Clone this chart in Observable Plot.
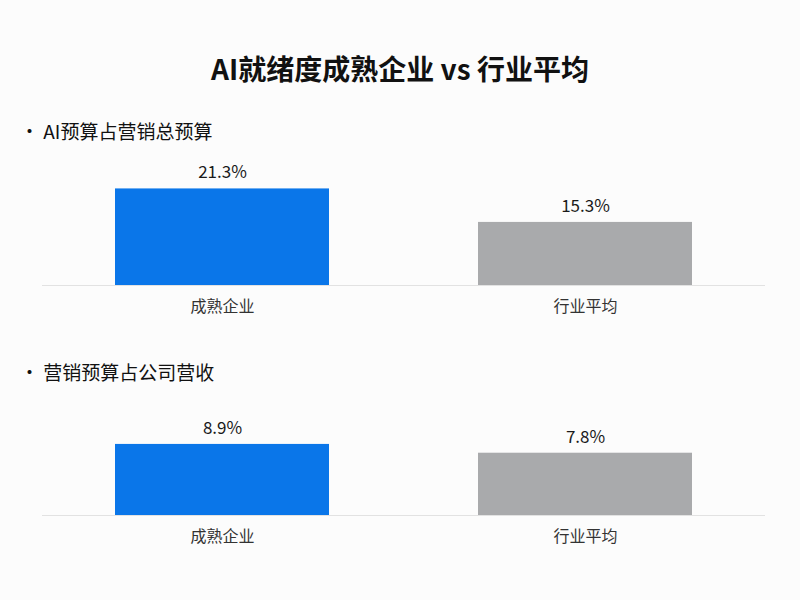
<!DOCTYPE html>
<html>
<head>
<meta charset="utf-8">
<script src="https://cdn.jsdelivr.net/npm/d3@7"></script>
<script src="https://cdn.jsdelivr.net/npm/@observablehq/plot@0.6"></script>
<style>
  html, body { margin: 0; padding: 0; background: #fcfcfc; }
  body { width: 800px; height: 600px; position: relative; overflow: hidden;
         font-family: "Noto Sans CJK SC", "Noto Sans", sans-serif; color: #111; }
  .title { position: absolute; left: 0; width: 800px; top: 48px; height: 40px; line-height: 40px;
           text-align: center; font-size: 28px; font-weight: 700; }
  .sub { position: absolute; left: 20px; height: 30px; line-height: 30px; font-size: 19px; color: #111; }
  .panel { position: absolute; left: 0; }
</style>
</head>
<body>
<div class="title" id="title"></div>
<div class="sub" id="sub1" style="top:116px"></div>
<div class="sub" id="sub2" style="top:357px"></div>
<div class="panel" id="p1" style="top:150px"></div>
<div class="panel" id="p2" style="top:380px"></div>
<script>
const titleText = "AI就绪度成熟企业 vs 行业平均";
const categories = ["成熟企业", "行业平均"];
const panelTitles = ["AI预算占营销总预算", "营销预算占公司营收"];
const aiBudgetShare = [21.3, 15.3];
const marketingRevenueShare = [8.9, 7.8];
const barColors = ["#0a76e9", "#a9aaac"];
const panelDomains = [[4, 24.6], [0, 14.4]];

document.getElementById("title").textContent = titleText;
document.getElementById("sub1").textContent = "• " + panelTitles[0];
document.getElementById("sub2").textContent = "• " + panelTitles[1];

function panel(values, domain) {
  const data = categories.map((c, i) => ({ category: c, value: values[i] }));
  return Plot.plot({
    width: 800,
    height: 180,
    marginLeft: 42,
    marginRight: 35,
    marginTop: 20,
    marginBottom: 45,
    style: { background: "transparent", fontFamily: '"Noto Sans CJK SC", "Noto Sans", sans-serif' },
    x: { domain: categories, paddingInner: 0.41, paddingOuter: 0.2, label: null },
    y: { domain: domain, axis: null },
    color: { domain: categories, range: barColors },
    marks: [
      Plot.barY(data, { x: "category", y: "value", fill: "category", clip: true }),
      Plot.ruleY([domain[0]], { stroke: "#e2e2e2", strokeWidth: 1 }),
      Plot.text(data, { x: "category", y: "value", text: d => d.value.toFixed(1) + "%",
                        dy: -16, fontSize: 17, fill: "#1a1a1a" }),
      Plot.axisX({ tickSize: 0, tickPadding: 15, fontSize: 16, color: "#333", label: null })
    ]
  });
}

document.getElementById("p1").appendChild(panel(aiBudgetShare, panelDomains[0]));
document.getElementById("p2").appendChild(panel(marketingRevenueShare, panelDomains[1]));
</script>
</body>
</html>
